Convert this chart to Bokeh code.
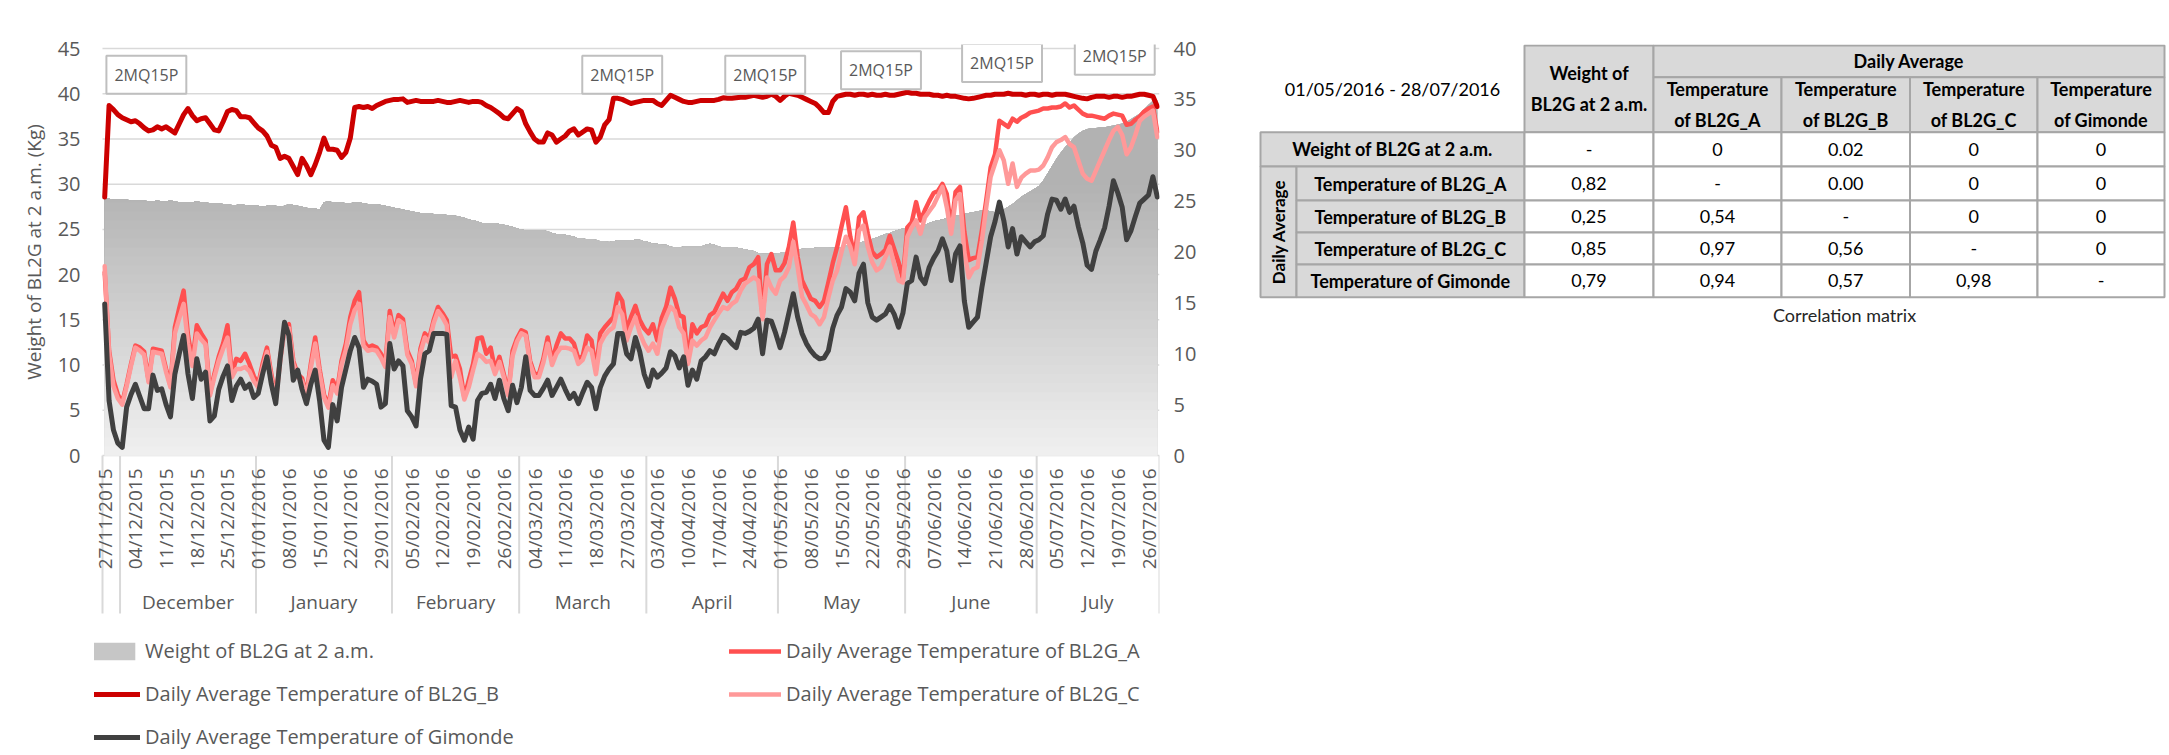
import math
import numpy as np
from bokeh.plotting import figure
from bokeh.models import (Range1d, LinearAxis, FixedTicker, Grid, Legend, LegendItem, Label)
from bokeh.layouts import row
from bokeh.embed import file_html
from bokeh.resources import INLINE
from bokeh.core.properties import value

# ---------------- data ----------------
month_names = ["", "December", "January", "February", "March", "April", "May", "June", "July"]
month_counts = [4, 31, 31, 29, 29, 30, 29, 30, 28]

date_labels = ["27/11/2015", "04/12/2015", "11/12/2015", "18/12/2015", "25/12/2015",
               "01/01/2016", "08/01/2016", "15/01/2016", "22/01/2016", "29/01/2016",
               "05/02/2016", "12/02/2016", "19/02/2016", "26/02/2016", "04/03/2016",
               "11/03/2016", "18/03/2016", "27/03/2016", "03/04/2016", "10/04/2016",
               "17/04/2016", "24/04/2016", "01/05/2016", "08/05/2016", "15/05/2016",
               "22/05/2016", "29/05/2016", "07/06/2016", "14/06/2016", "21/06/2016",
               "28/06/2016", "05/07/2016", "12/07/2016", "19/07/2016", "26/07/2016"]
label_step = 7
weight_ticks = [0, 5, 10, 15, 20, 25, 30, 35, 40, 45]
temp_ticks = [0, 5, 10, 15, 20, 25, 30, 35, 40]

weight = [28.4, 28.4, 28.3, 28.3, 28.3, 28.3, 28.2, 28.2, 28.2, 28.2,
          28.1, 28.1, 28.2, 28.1, 28.1, 28.2, 28.1, 28.0, 28.0, 28.0,
          28.0, 28.1, 28.0, 28.0, 27.9, 27.9, 27.9, 27.8, 27.8, 27.7,
          27.7, 27.8, 27.7, 27.6, 27.6, 27.6, 27.5, 27.6, 27.7, 27.6,
          27.5, 27.6, 27.8, 27.7, 27.6, 27.5, 27.4, 27.3, 27.3, 27.2,
          28.0, 28.1, 28.0, 28.0, 28.0, 27.9, 27.9, 28.0, 28.0, 27.9,
          27.8, 27.8, 27.8, 27.7, 27.6, 27.5, 27.4, 27.3, 27.2, 27.1,
          27.0, 26.9, 26.8, 26.8, 26.8, 26.7, 26.7, 26.7, 26.6, 26.5,
          26.5, 26.4, 26.3, 26.1, 26.0, 25.9, 25.7, 25.7, 25.7, 25.7,
          25.6, 25.5, 25.4, 25.3, 25.1, 25.0, 24.9, 24.9, 24.9, 24.9,
          24.9, 24.8, 24.6, 24.5, 24.5, 24.4, 24.3, 24.2, 24.0, 24.0,
          23.9, 23.9, 23.85, 23.7, 23.7, 23.6, 23.7, 23.8, 23.8, 23.8,
          23.8, 23.85, 23.85, 23.7, 23.6, 23.4, 23.4, 23.3, 23.3, 23.1,
          23.0, 23.0, 23.1, 23.1, 23.1, 23.1, 23.1, 23.3, 23.4, 23.3,
          23.1, 23.0, 23.0, 23.0, 23.0, 22.9, 22.8, 22.7, 22.6, 22.4,
          22.3, 22.3, 22.3, 22.3, 22.4, 22.5, 22.5, 22.6, 22.7, 22.85,
          22.9, 22.9, 22.96, 23.0, 23.0, 23.0, 22.96, 22.96, 23.0, 23.2,
          23.4, 23.4, 23.5, 23.7, 23.8, 23.95, 24.1, 24.3, 24.5, 24.6,
          24.8, 24.95, 25.1, 25.2, 25.3, 25.3, 25.4, 25.5, 25.7, 25.9,
          26.0, 26.1, 26.3, 26.4, 26.5, 26.6, 26.7, 26.8, 26.9, 27.0,
          27.1, 27.1, 27.0, 26.9, 27.0, 27.2, 27.5, 27.8, 28.2, 28.6,
          28.9, 29.2, 29.5, 29.8, 30.4, 31.2, 32.0, 32.8, 33.5, 34.1,
          34.6, 35.2, 35.6, 35.9, 36.1, 36.2, 36.2, 36.3, 36.3, 36.4,
          36.5, 36.6, 36.7, 36.9, 37.2, 37.5, 37.8, 38.3, 38.8, 39.25,
          39.3]

temp_a = [18.0, 10.3, 7.4, 6.0, 5.2, 7.0, 9.0, 10.8, 10.6, 10.2,
          7.4, 10.5, 10.4, 10.3, 8.5, 6.9, 12.6, 14.5, 16.2, 11.8,
          9.3, 12.8, 12.0, 11.3, 6.1, 8.0, 9.7, 11.0, 12.8, 8.0,
          9.5, 9.3, 10.0, 9.0, 7.8, 7.0, 9.0, 10.6, 8.0, 5.6,
          9.5, 12.6, 12.9, 9.3, 8.0, 7.6, 6.0, 9.0, 11.6, 8.5,
          6.0, 4.9, 7.4, 6.4, 9.3, 11.0, 13.6, 15.2, 16.05, 11.3,
          10.6, 10.8, 10.6, 10.0, 9.0, 14.2, 12.0, 13.8, 13.4, 10.3,
          9.3, 7.0, 10.5, 12.0, 11.5, 13.3, 14.6, 14.0, 13.3, 9.7,
          9.8, 8.5, 5.7, 7.4, 9.0, 11.5, 11.6, 10.0, 10.6, 8.4,
          9.7, 8.0, 6.1, 10.3, 11.5, 12.3, 12.1, 9.3, 8.0, 8.0,
          9.5, 11.6, 9.3, 10.8, 12.0, 11.5, 11.5, 11.0, 9.5, 9.8,
          11.8, 11.3, 8.4, 12.0, 12.6, 13.1, 13.6, 15.9, 15.2, 12.3,
          13.6, 14.7, 13.3, 12.5, 12.0, 12.9, 11.3, 13.5, 14.6, 16.5,
          15.4, 13.8, 13.6, 9.2, 12.9, 12.0, 12.6, 12.8, 13.8, 14.1,
          15.0, 15.9, 15.2, 16.05, 16.4, 17.2, 17.4, 18.5, 18.8, 19.5,
          13.6, 18.8, 19.8, 18.2, 18.2, 18.9, 20.5, 22.9, 19.5, 17.2,
          16.3, 15.4, 15.2, 14.6, 15.2, 17.0, 18.9, 20.5, 22.5, 24.4,
          21.5, 19.5, 23.4, 23.9, 21.8, 20.0, 19.5, 19.8, 20.2, 21.6,
          20.3, 19.0, 17.4, 22.4, 22.9, 24.9, 23.1, 24.1, 25.0, 25.8,
          26.0, 26.7, 25.7, 22.3, 25.9, 26.4, 22.0, 19.2, 19.4, 19.5,
          22.1, 25.1, 28.3, 29.6, 32.9, 32.6, 32.3, 33.1, 32.8, 33.2,
          33.4, 33.7, 33.8, 33.9, 34.1, 34.1, 34.2, 34.2, 34.3, 34.6,
          34.2, 34.4, 34.0, 33.6, 33.4, 33.4, 33.3, 33.2, 33.1, 33.4,
          33.6, 33.5, 33.4, 32.5, 32.6, 33.0, 33.3, 33.8, 34.1, 34.3,
          31.8]

temp_b = [25.4, 34.4, 34.0, 33.5, 33.2, 33.0, 32.8, 32.9, 32.6, 32.2,
          31.9, 32.0, 32.3, 32.1, 32.3, 32.0, 31.7, 32.6, 33.5, 34.1,
          33.4, 32.9, 33.1, 33.2, 32.6, 32.0, 31.9, 32.8, 33.8, 34.0,
          33.9, 33.3, 33.3, 33.2, 32.7, 32.2, 31.9, 31.4, 30.5, 30.3,
          29.2, 29.4, 29.2, 28.4, 27.6, 29.2, 28.5, 27.6, 28.6, 29.8,
          31.2, 30.1, 30.1, 30.0, 29.3, 29.8, 31.2, 34.2, 34.3, 34.2,
          34.3, 34.1, 34.4, 34.6, 34.8, 34.9, 35.0, 35.0, 35.05, 34.7,
          34.8, 34.9, 34.8, 34.8, 34.8, 34.8, 34.9, 34.8, 34.7, 34.7,
          34.8, 34.9, 34.8, 34.7, 34.8, 34.8, 34.7, 34.4, 34.2, 33.9,
          33.6, 33.2, 33.1, 33.6, 34.1, 33.8, 32.6, 31.8, 31.1, 30.8,
          30.8, 31.7, 31.5, 30.8, 31.1, 31.4, 31.9, 32.1, 31.5, 31.8,
          32.1, 32.0, 30.8, 31.3, 32.5, 33.0, 35.1, 35.1, 35.0, 34.8,
          34.6, 34.7, 34.8, 34.9, 34.9, 34.9, 34.6, 34.4, 34.9, 35.4,
          35.2, 35.0, 34.8, 34.7, 34.7, 34.8, 34.9, 34.9, 34.9, 34.9,
          35.0, 35.15, 35.1, 35.1, 35.15, 35.2, 35.2, 35.3, 35.4, 35.3,
          35.2, 35.3, 35.5, 35.3, 34.9, 35.3, 35.6, 35.5, 35.4, 35.2,
          35.0, 34.8, 34.6, 34.2, 33.7, 33.7, 34.8, 35.3, 35.4, 35.5,
          35.5, 35.4, 35.5, 35.5, 35.4, 35.5, 35.4, 35.4, 35.5, 35.4,
          35.4, 35.5, 35.6, 35.7, 35.6, 35.6, 35.5, 35.5, 35.5, 35.4,
          35.4, 35.3, 35.4, 35.3, 35.3, 35.2, 35.1, 35.05, 35.1, 35.2,
          35.3, 35.4, 35.4, 35.5, 35.5, 35.5, 35.6, 35.5, 35.5, 35.5,
          35.4, 35.5, 35.5, 35.4, 35.5, 35.5, 35.4, 35.5, 35.5, 35.5,
          35.4, 35.3, 35.2, 35.1, 35.05, 35.2, 35.3, 35.3, 35.3, 35.2,
          35.3, 35.3, 35.2, 35.3, 35.3, 35.4, 35.5, 35.5, 35.4, 35.3,
          34.3]

temp_c = [18.6, 10.0, 6.8, 5.6, 5.0, 6.8, 8.8, 10.6, 10.3, 9.9,
          7.2, 10.2, 10.1, 10.0, 8.2, 6.7, 12.0, 13.5, 14.9, 11.0,
          8.8, 12.0, 11.4, 10.9, 5.9, 7.7, 9.3, 10.5, 11.6, 7.7,
          8.5, 8.5, 8.7, 8.3, 7.3, 6.7, 8.6, 10.2, 7.6, 5.4,
          9.2, 12.3, 12.5, 9.0, 7.7, 7.3, 5.8, 8.6, 11.0, 8.1,
          5.7, 4.7, 6.9, 6.1, 8.9, 10.4, 12.9, 14.3, 14.9, 10.8,
          10.3, 10.4, 10.3, 9.6, 8.7, 13.6, 11.6, 13.3, 13.0, 9.9,
          9.0, 6.8, 10.1, 11.6, 11.1, 13.0, 14.2, 13.6, 12.8, 7.7,
          9.3, 7.6, 5.5, 6.7, 8.4, 10.0, 9.7, 9.2, 9.3, 8.0,
          9.2, 7.7, 5.9, 9.8, 11.2, 12.0, 11.8, 9.0, 7.7, 7.7,
          9.1, 11.0, 8.9, 10.0, 10.6, 10.6, 10.5, 10.3, 9.0, 9.4,
          10.6, 10.3, 8.0, 11.0, 11.8, 12.3, 12.6, 14.6, 13.9, 11.3,
          12.6, 13.6, 12.0, 11.0, 10.3, 11.0, 10.0, 12.5, 13.6, 14.6,
          14.2, 12.6, 12.0, 9.0, 11.3, 10.8, 11.3, 11.6, 12.6, 13.3,
          14.0, 14.6, 14.4, 14.9, 15.2, 16.2, 16.9, 17.2, 17.5, 17.2,
          13.4, 17.5, 16.5, 15.9, 17.2, 17.6, 18.5, 21.0, 18.5, 15.6,
          14.8, 13.9, 13.6, 12.9, 13.6, 15.5, 17.2, 18.2, 20.0, 21.5,
          20.5, 18.8, 22.1, 22.6, 20.5, 19.0, 18.2, 18.5, 19.5, 20.5,
          18.8, 17.2, 17.0, 21.5, 22.4, 23.1, 21.8, 23.4, 24.0, 24.6,
          25.5, 26.4, 24.4, 21.8, 25.1, 25.7, 20.0, 17.5, 18.3, 18.5,
          21.1, 24.4, 27.4, 28.7, 30.0, 29.0, 26.7, 28.7, 26.4, 27.3,
          27.7, 28.0, 28.0, 28.1, 28.5, 29.3, 30.3, 30.8, 31.0, 31.3,
          30.6, 30.3, 29.0, 27.7, 27.2, 27.0, 28.0, 29.0, 30.0, 31.0,
          31.9, 32.3, 31.5, 29.6, 30.3, 31.5, 32.9, 33.3, 33.6, 33.9,
          31.3]

temp_gimonde = [14.9, 5.4, 2.5, 1.2, 0.8, 4.75, 6.0, 7.0, 5.8, 4.6,
                4.6, 7.9, 6.4, 6.55, 5.0, 3.8, 8.0, 10.0, 11.8, 8.0,
                5.6, 9.5, 7.5, 8.2, 3.4, 3.9, 6.5, 7.8, 8.8, 5.4,
                6.8, 7.5, 6.6, 7.0, 5.7, 6.1, 8.0, 9.7, 7.0, 5.1,
                9.5, 13.1, 11.8, 7.4, 8.4, 6.5, 5.1, 7.0, 8.4, 5.4,
                1.5, 0.8, 5.0, 3.4, 6.7, 8.5, 10.3, 11.6, 10.6, 6.7,
                7.5, 7.3, 7.0, 4.75, 5.1, 11.0, 8.5, 9.3, 8.8, 4.4,
                3.8, 2.9, 7.5, 10.0, 10.3, 12.0, 12.0, 12.0, 11.9, 4.9,
                4.75, 2.5, 1.5, 2.8, 1.6, 5.4, 6.1, 6.2, 7.0, 5.6,
                7.4, 5.6, 4.4, 6.9, 5.2, 6.7, 9.7, 6.4, 5.9, 5.9,
                6.6, 7.4, 5.9, 6.7, 7.5, 6.5, 5.6, 6.1, 5.1, 6.2,
                7.2, 6.7, 4.6, 6.7, 7.8, 8.5, 9.0, 12.0, 12.0, 10.0,
                9.5, 11.6, 10.2, 8.0, 6.8, 8.4, 7.7, 8.1, 8.6, 10.2,
                9.8, 8.6, 9.7, 6.9, 8.4, 7.5, 9.3, 9.7, 10.3, 10.0,
                11.0, 11.8, 11.5, 11.0, 10.6, 12.1, 12.0, 12.2, 12.5, 13.4,
                10.0, 13.3, 13.2, 12.0, 10.6, 12.1, 14.0, 15.9, 13.6, 12.0,
                11.0, 10.3, 9.8, 9.5, 9.6, 10.3, 12.5, 13.8, 14.6, 16.4,
                16.05, 15.2, 17.9, 18.8, 15.0, 13.6, 13.3, 13.6, 13.9, 14.7,
                13.9, 12.6, 14.0, 16.9, 17.2, 19.5, 17.5, 16.9, 18.5, 19.4,
                20.1, 21.3, 20.1, 17.2, 19.8, 20.6, 15.2, 12.6, 13.1, 13.6,
                16.5, 19.0, 21.5, 23.0, 24.9, 23.1, 20.5, 22.3, 19.8, 21.5,
                21.0, 20.5, 21.0, 21.2, 21.6, 23.75, 25.2, 25.1, 24.2, 25.2,
                23.9, 24.5, 22.5, 20.9, 18.7, 18.3, 20.1, 21.2, 22.4, 24.5,
                27.0, 25.8, 24.4, 21.2, 22.1, 23.5, 24.8, 25.2, 25.6, 27.4,
                25.4]

ann_text = "2MQ15P"
ann_idx = [9.5, 118, 150.6, 177, 204.6, 230.3]
ann_level = [42.1, 42.1, 42.1, 42.6, 43.4, 44.2]

corr_rows = ["Weight of BL2G at 2 a.m.", "Temperature of BL2G_A", "Temperature of BL2G_B",
             "Temperature of BL2G_C", "Temperature of Gimonde"]
corr_cols = ["Weight of\nBL2G at 2 a.m.", "Temperature\nof BL2G_A", "Temperature\nof BL2G_B",
             "Temperature\nof BL2G_C", "Temperature\nof Gimonde"]
corr_vals = [["-", "0", "0.02", "0", "0"],
             ["0,82", "-", "0.00", "0", "0"],
             ["0,25", "0,54", "-", "0", "0"],
             ["0,85", "0,97", "0,56", "-", "0"],
             ["0,79", "0,94", "0,57", "0,98", "-"]]
period = "01/05/2016 - 28/07/2016"
caption = "Correlation matrix"

# ---------------- main chart ----------------
N = len(weight)
xs = np.arange(N)
GRAY_TXT = "#595959"
GRID = "#d9d9d9"
FONT = "Open Sans"

H = 755
PX = 407.0 / 45.0            # pixels per kg on the left axis
PXX = 1057.0 / N             # pixels per category
EXT = 8                      # frame reaches a few px left of the first category
TOP = 45 + 4 / PX            # frame top sits 4px above the 45 gridline
BOT = TOP - (H - 44) / PX    # frame reaches the bottom of the canvas
def px(v):
    return v / PX

p = figure(width=1251, height=H, x_range=Range1d(-0.5 - EXT / PXX, N - 0.5), y_range=Range1d(BOT, TOP),
           x_axis_location=None, y_axis_location=None, toolbar_location=None,
           output_backend="svg", min_border_left=102 - EXT, min_border_right=92,
           min_border_top=44, min_border_bottom=0)
p.outline_line_color = None
p.background_fill_color = "white"
p.center = [r for r in p.center if not isinstance(r, Grid)]
p.extra_y_ranges = {"temp": Range1d(BOT * 40 / 45, TOP * 40 / 45)}

# the axis title is centred on the (tall) frame; leading no-break spaces lift the
# visible words up to the middle of the 0-45 scale, as in the original
lift = "\u00a0" * 60
yl = LinearAxis(ticker=FixedTicker(ticks=weight_ticks), bounds=(0, 45))
yl.axis_line_color = None
yl.major_tick_line_color = None
yl.major_tick_out = 0
yl.minor_tick_line_color = None
yl.major_label_standoff = 102 - EXT - 80
yl.major_label_text_font = FONT
yl.major_label_text_font_size = "20px"
yl.major_label_text_color = GRAY_TXT
yl.axis_label = lift + "Weight of BL2G at 2 a.m. (Kg)"
yl.axis_label_text_font = FONT
yl.axis_label_text_font_size = "19px"
yl.axis_label_text_font_style = "normal"
yl.axis_label_text_color = GRAY_TXT
yl.axis_label_standoff = 8
p.add_layout(yl, "left")

yr = LinearAxis(y_range_name="temp", ticker=FixedTicker(ticks=temp_ticks), bounds=(0, 40))
yr.axis_line_color = None
yr.major_tick_line_color = None
yr.major_tick_out = 0
yr.minor_tick_line_color = None
yr.major_label_standoff = 14
yr.major_label_text_font = FONT
yr.major_label_text_font_size = "20px"
yr.major_label_text_color = GRAY_TXT
p.add_layout(yr, "right")

# horizontal gridlines of the weight axis, spanning the category area only
p.segment(x0=[-0.5] * len(weight_ticks), y0=weight_ticks, x1=[N - 0.5] * len(weight_ticks),
          y1=weight_ticks, line_color=GRID, line_width=1.5)

# category axis drawn below the zero line: date labels, month names and separators
tick_idx = [i * label_step for i in range(len(date_labels))]
bounds = [-0.5]
for c in month_counts:
    bounds.append(bounds[-1] + c)
centers = [(bounds[k] + bounds[k + 1]) / 2 for k in range(len(month_counts))]

p.segment(x0=bounds, y0=[0] * len(bounds), x1=bounds, y1=[-px(158)] * len(bounds),
          line_color=GRID, line_width=2)
p.text(x=tick_idx, y=[-px(13)] * len(tick_idx), text=date_labels, angle=math.pi / 2,
       text_align="right", text_baseline="middle", text_font=value(FONT),
       text_font_size="19px", text_color=GRAY_TXT)
p.text(x=centers, y=[-px(146)] * len(centers), text=month_names,
       text_align="center", text_baseline="middle", text_font=value(FONT),
       text_font_size="19px", text_color=GRAY_TXT)

# gradient-filled weight area (stacked bands)
w = np.array(weight)
def band_color(v):
    t = min(v / 30.0, 1.0)
    g = int(round(0xf0 + (0xb2 - 0xf0) * t))
    return "#%02x%02x%02x" % (g, g, g)

area_legend = None
for k in range(40, -1, -1):
    r = p.varea(x=xs, y1=0, y2=np.minimum(w, k + 1), fill_color=band_color(k + 0.5), fill_alpha=1.0)
    if k == 20:
        area_legend = r

line_kw = dict(y_range_name="temp", line_join="round", line_cap="round")
rA = p.line(xs, temp_a, line_color="#ff5050", line_width=4.5, **line_kw)
rB = p.line(xs, temp_b, line_color="#cc0000", line_width=5, **line_kw)
rC = p.line(xs, temp_c, line_color="#ff9999", line_width=4.5, **line_kw)
rG = p.line(xs, temp_gimonde, line_color="#404040", line_width=5, **line_kw)

for xi, yi in zip(ann_idx, ann_level):
    p.add_layout(Label(x=xi, y=yi, text=ann_text, anchor="center", text_font=FONT,
                       text_font_size="16px", text_color=GRAY_TXT,
                       background_fill_color="white", border_line_color="#bfbfbf",
                       border_line_width=2, padding=8))

FL = 102 - EXT   # frame left in page pixels
p.add_layout(Label(x=1228 - FL, y=px(455 - 299), x_units="screen", y_units="data",
                   text="Daily Average Temperature of BL2G and Gimonde (ºC)",
                   angle=math.pi / 2, text_align="center", text_baseline="middle",
                   text_font=FONT, text_font_size="19px", text_color=GRAY_TXT))

leg_style = dict(label_text_font=FONT, label_text_font_size="20px", label_text_color=GRAY_TXT,
                 glyph_width=52, glyph_height=22, label_standoff=5, spacing=16, padding=0,
                 margin=0, border_line_color=None, background_fill_alpha=0)
leg1 = Legend(items=[LegendItem(label="Weight of BL2G at 2 a.m.", renderers=[area_legend]),
                     LegendItem(label="Daily Average Temperature of BL2G_B", renderers=[rB]),
                     LegendItem(label="Daily Average Temperature of Gimonde", renderers=[rG])],
              location=(88 - FL, 5), **leg_style)
leg2 = Legend(items=[LegendItem(label="Daily Average Temperature of BL2G_A", renderers=[rA]),
                     LegendItem(label="Daily Average Temperature of BL2G_C", renderers=[rC])],
              location=(729 - FL, 48), **leg_style)
p.add_layout(leg1, "center")
p.add_layout(leg2, "center")

# ---------------- correlation table ----------------
TW = 2169 - 1251
t = figure(width=TW, height=H, x_range=Range1d(0, TW), y_range=Range1d(H - 44, 0),
           x_axis_location=None, y_axis_location=None, toolbar_location=None,
           output_backend="svg", min_border_left=0, min_border_right=0,
           min_border_top=44, min_border_bottom=0)
t.outline_line_color = None
t.center = [r for r in t.center if not isinstance(r, Grid)]

col_w = [36, 228, 129, 128, 128.5, 127.5, 127]
row_h = [31.7, 55, 34.3, 34, 32, 32, 32.7]
x0, y0 = 9, 1
cx = [x0]
for cw in col_w:
    cx.append(cx[-1] + cw)
ry = [y0]
for rh in row_h:
    ry.append(ry[-1] + rh)

HDR = "#d9d9d9"
BRD = "#a6a6a6"
cells = []  # (c0, c1, r0, r1, fill)
cells.append((2, 3, 0, 2, HDR))
cells.append((3, 7, 0, 1, HDR))
for j in range(4):
    cells.append((3 + j, 4 + j, 1, 2, HDR))
cells.append((0, 2, 2, 3, HDR))
cells.append((0, 1, 3, 7, HDR))
for i in range(4):
    cells.append((1, 2, 3 + i, 4 + i, HDR))
for i in range(5):
    for j in range(5):
        cells.append((2 + j, 3 + j, 2 + i, 3 + i, "white"))

t.quad(left=[cx[c[0]] for c in cells], right=[cx[c[1]] for c in cells],
       top=[ry[c[2]] for c in cells], bottom=[ry[c[3]] for c in cells],
       fill_color=[c[4] for c in cells], line_color=BRD, line_width=2)

TF = value("Lato")
bold_kw = dict(text_font=TF, text_font_style="bold", text_font_size="18px", text_color="black",
               text_align="center", text_baseline="middle", text_line_height=1.4)
norm_kw = dict(text_font=TF, text_font_style="normal", text_font_size="18px", text_color="black",
               text_align="center", text_baseline="middle")

t.text(x=[(cx[2] + cx[3]) / 2], y=[(ry[0] + ry[2]) / 2], text=[corr_cols[0]], **bold_kw)
t.text(x=[(cx[3] + cx[7]) / 2], y=[(ry[0] + ry[1]) / 2], text=["Daily Average"], **bold_kw)
t.text(x=[(cx[3 + j] + cx[4 + j]) / 2 for j in range(4)], y=[(ry[1] + ry[2]) / 2] * 4,
       text=corr_cols[1:], **bold_kw)
t.text(x=[(cx[0] + cx[2]) / 2], y=[(ry[2] + ry[3]) / 2], text=[corr_rows[0]], **bold_kw)
t.text(x=[(cx[1] + cx[2]) / 2] * 4, y=[(ry[3 + i] + ry[4 + i]) / 2 for i in range(4)],
       text=corr_rows[1:], **bold_kw)
t.text(x=[(cx[0] + cx[1]) / 2], y=[(ry[3] + ry[7]) / 2], text=["Daily Average"], angle=math.pi / 2,
       **dict(bold_kw, text_font_size="17px"))
vx, vy, vt = [], [], []
for i in range(5):
    for j in range(5):
        vx.append((cx[2 + j] + cx[3 + j]) / 2)
        vy.append((ry[2 + i] + ry[3 + i]) / 2)
        vt.append(corr_vals[i][j])
t.text(x=vx, y=vy, text=vt, **norm_kw)
t.text(x=[(cx[0] + cx[2]) / 2], y=[(ry[0] + ry[2]) / 2], text=[period], **dict(norm_kw, text_font_size="18px"))
t.text(x=[(cx[2] + cx[7]) / 2], y=[ry[7] + 18], text=[caption],
       **dict(norm_kw, text_font_size="18px", text_color="#262626"))

layout = row(p, t)
open("out.html", "w").write(file_html(layout, INLINE))
